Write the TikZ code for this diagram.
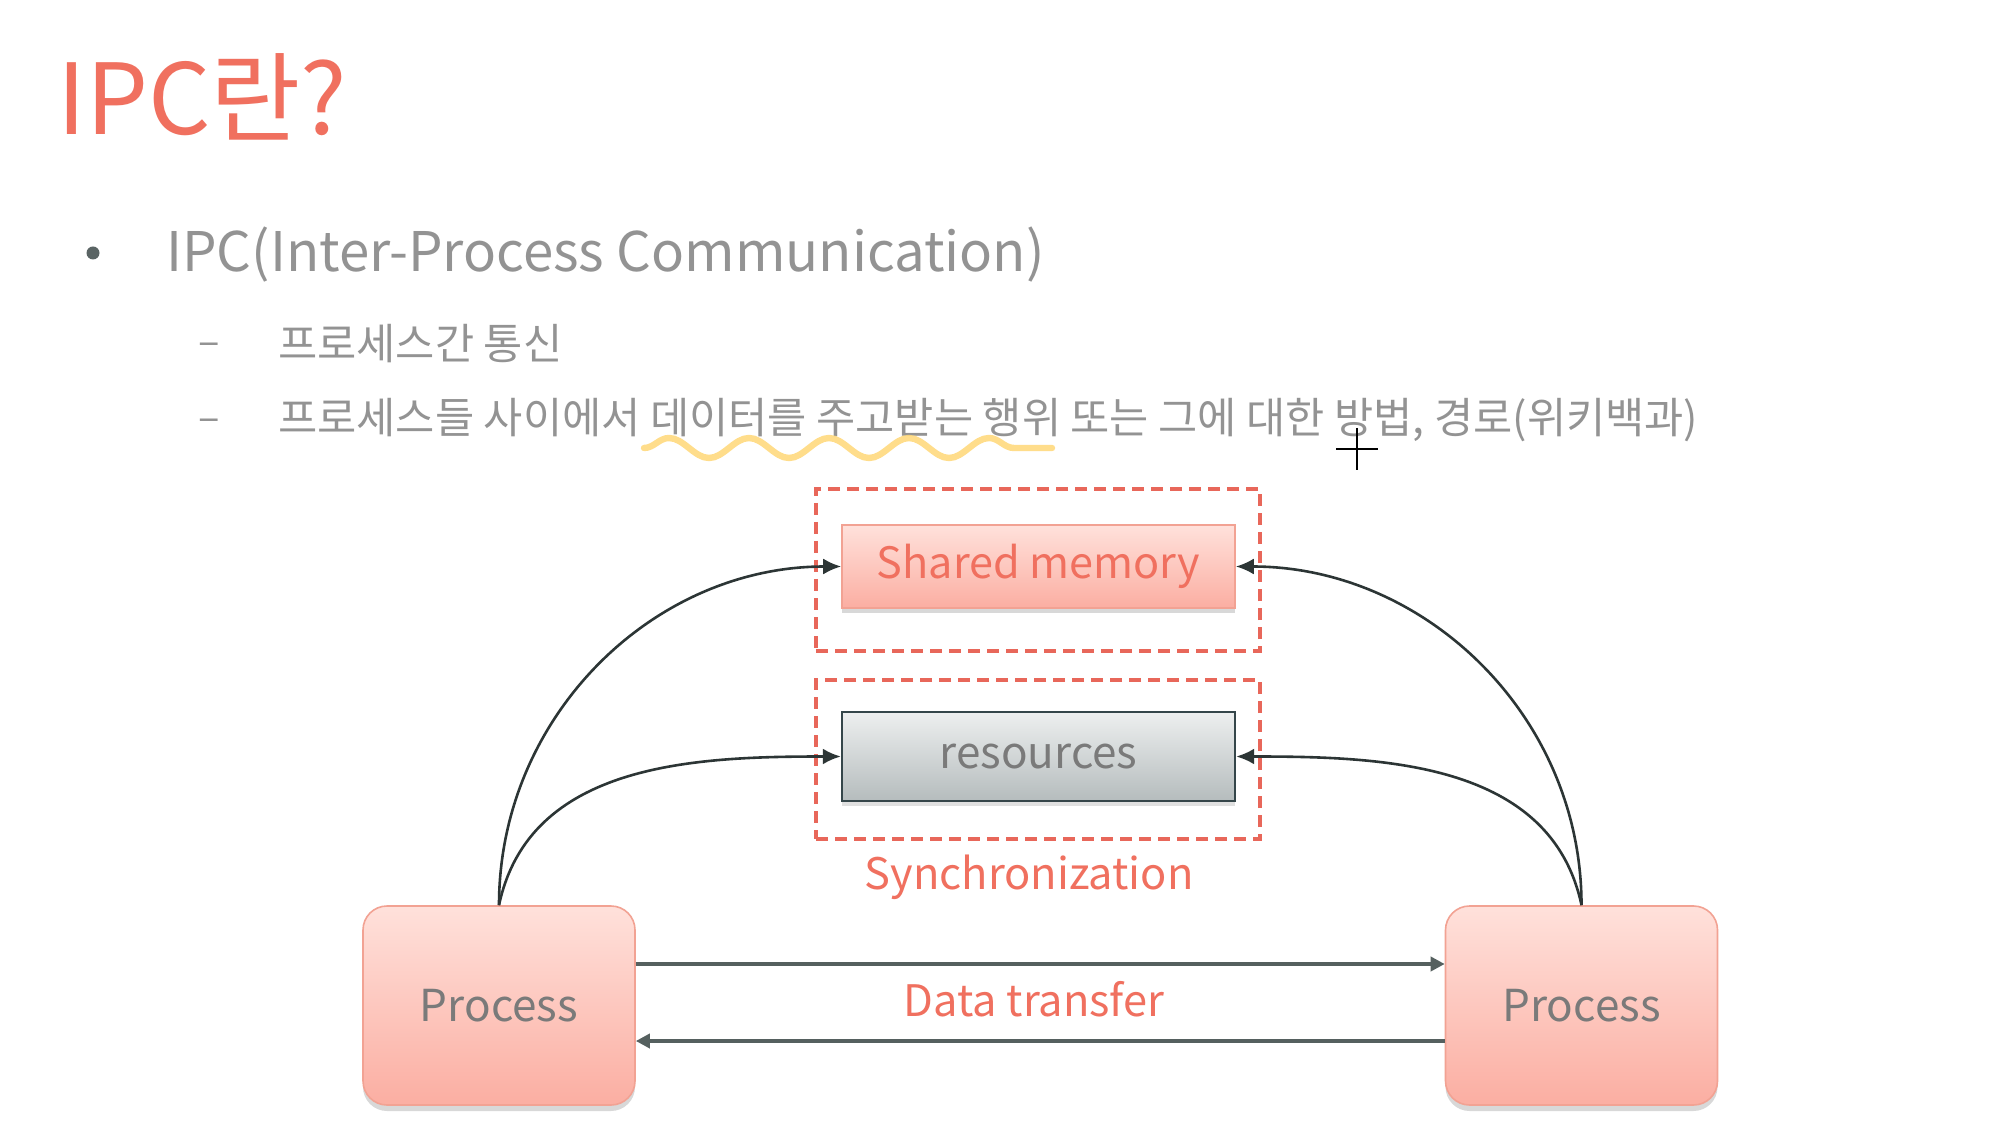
\documentclass[tikz,border=0pt]{standalone}
\usepackage{fontspec}
\setmainfont{Noto Sans CJK KR}
\usetikzlibrary{arrows.meta,shadows,decorations.pathmorphing}
\definecolor{salmon}{HTML}{F0705F}
\definecolor{txtgray}{HTML}{939393}
\definecolor{dgray}{HTML}{7A7A7A}
\definecolor{arrgray}{HTML}{55605F}
\definecolor{curvegray}{HTML}{2C3535}
\definecolor{dashred}{HTML}{E8675A}
\definecolor{pinktop}{HTML}{FFE1DB}
\definecolor{pinkbot}{HTML}{FBAEA2}
\definecolor{pinkline}{HTML}{F2A293}
\definecolor{graytop}{HTML}{EDEFEF}
\definecolor{graybot}{HTML}{B5BCBD}
\definecolor{grayline}{HTML}{35464A}
\definecolor{wave}{HTML}{FFD877}
\definecolor{dotgray}{HTML}{5A6464}
\tikzset{
  titletext/.style={anchor=west, inner sep=0pt, text=salmon, font=\fontsize{49pt}{54pt}\selectfont},
  bullettext/.style={anchor=west, inner sep=0pt, text=txtgray, font=\fontsize{27.3pt}{32pt}\selectfont},
  subtext/.style={anchor=west, inner sep=0pt, text=txtgray, font=\fontsize{21.3pt}{25pt}\selectfont},
  dashtext/.style={inner sep=0pt, text=txtgray, font=\fontsize{20pt}{24pt}\selectfont},
  difftext/.style={inner sep=0pt, text=salmon, font=\fontsize{21.7pt}{26pt}\selectfont},
  procbox/.style={draw=pinkline, line width=0.8pt, rounded corners=12pt, top color=pinktop, bottom color=pinkbot,
    minimum width=136pt, minimum height=99.5pt, text=dgray, font=\fontsize{22pt}{26pt}\selectfont,
    drop shadow={shadow xshift=0pt, shadow yshift=-3pt, opacity=0.25, fill=black!60}},
  membox/.style={draw=pinkline, line width=0.8pt, top color=pinktop, bottom color=pinkbot,
    minimum width=196.5pt, minimum height=41.5pt, text=salmon, font=\fontsize{21.6pt}{26pt}\selectfont,
    drop shadow={shadow xshift=0pt, shadow yshift=-2.5pt, opacity=0.25, fill=black!60}},
  resbox/.style={draw=grayline, line width=1.2pt, top color=graytop, bottom color=graybot,
    minimum width=196.5pt, minimum height=44.5pt, text=dgray, font=\fontsize{22pt}{26pt}\selectfont,
    drop shadow={shadow xshift=0pt, shadow yshift=-2.5pt, opacity=0.2, fill=black!60}},
  syncbox/.style={draw=dashred, line width=1.6pt, dash pattern=on 6pt off 3.5pt, minimum width=222pt},
  curvearrow/.style={draw=curvegray, line width=1.3pt, -{Latex[length=9pt,width=8pt]}},
  dataarrow/.style={draw=arrgray, line width=2pt, -{Triangle[length=7pt,width=7pt]}}
}
\begin{document}
\begin{tikzpicture}[x=0.5pt,y=-0.5pt]
\useasboundingbox[fill=white] (0,0) rectangle (2000,1127);

% title and text
\node[titletext] (title) at (57,97) {IPC란?};
\fill[dotgray] (93,253) circle (6.5);
\node[bullettext] (b1) at (166,255) {IPC(Inter-Process Communication)};
\node[dashtext] (d1) at (209,349) {–};
\node[subtext] (s1) at (278,344) {프로세스간 통신};
\node[dashtext] (d2) at (209,425) {–};
\node[subtext] (s2) at (278,420) {프로세스들 사이에서 데이터를 주고받는 행위 또는 그에 대한 방법, 경로(위키백과)};

% yellow wavy annotation
\draw[wave, line width=3.2pt, line cap=round, opacity=0.85, decorate,
  decoration={snake, segment length=40pt, amplitude=5pt}] (644,448) -- (1052,448);
% cursor
\draw[black, line width=1.4pt] (1336,449) -- (1378,449) (1357,428) -- (1357,470);

% dashed sync boxes
\node[syncbox, minimum height=81pt] (sync1) at (1038,570) {};
\node[syncbox, minimum height=79.5pt] (sync2) at (1038,759.5) {};

% boxes
\node[membox] (sm) at (1038.5,566.5) {Shared memory};
\node[resbox] (res) at (1038.5,756.5) {resources};
\node[difftext] (synclabel) at (1029,877) {Synchronization};

\node[procbox] (lp) at (499,1005.5) {Process};
\node[procbox] (rp) at (1581.5,1005.5) {Process};

% data transfer
\draw[dataarrow] ([yshift=20.75pt]lp.east) -- ([yshift=20.75pt]rp.west);
\draw[dataarrow] ([yshift=-17.75pt]rp.west) -- ([yshift=-17.75pt]lp.east);
\node[difftext] (dt) at (1034,999) {Data transfer};

% curves
\draw[curvearrow] (lp.north) to[out=90, in=180] (sm.west);
\draw[curvearrow] (lp.north) to[out=78, in=180] (res.west);
\draw[curvearrow] (rp.north) to[out=90, in=0] (sm.east);
\draw[curvearrow] (rp.north) to[out=102, in=0] (res.east);
\end{tikzpicture}
\end{document}
